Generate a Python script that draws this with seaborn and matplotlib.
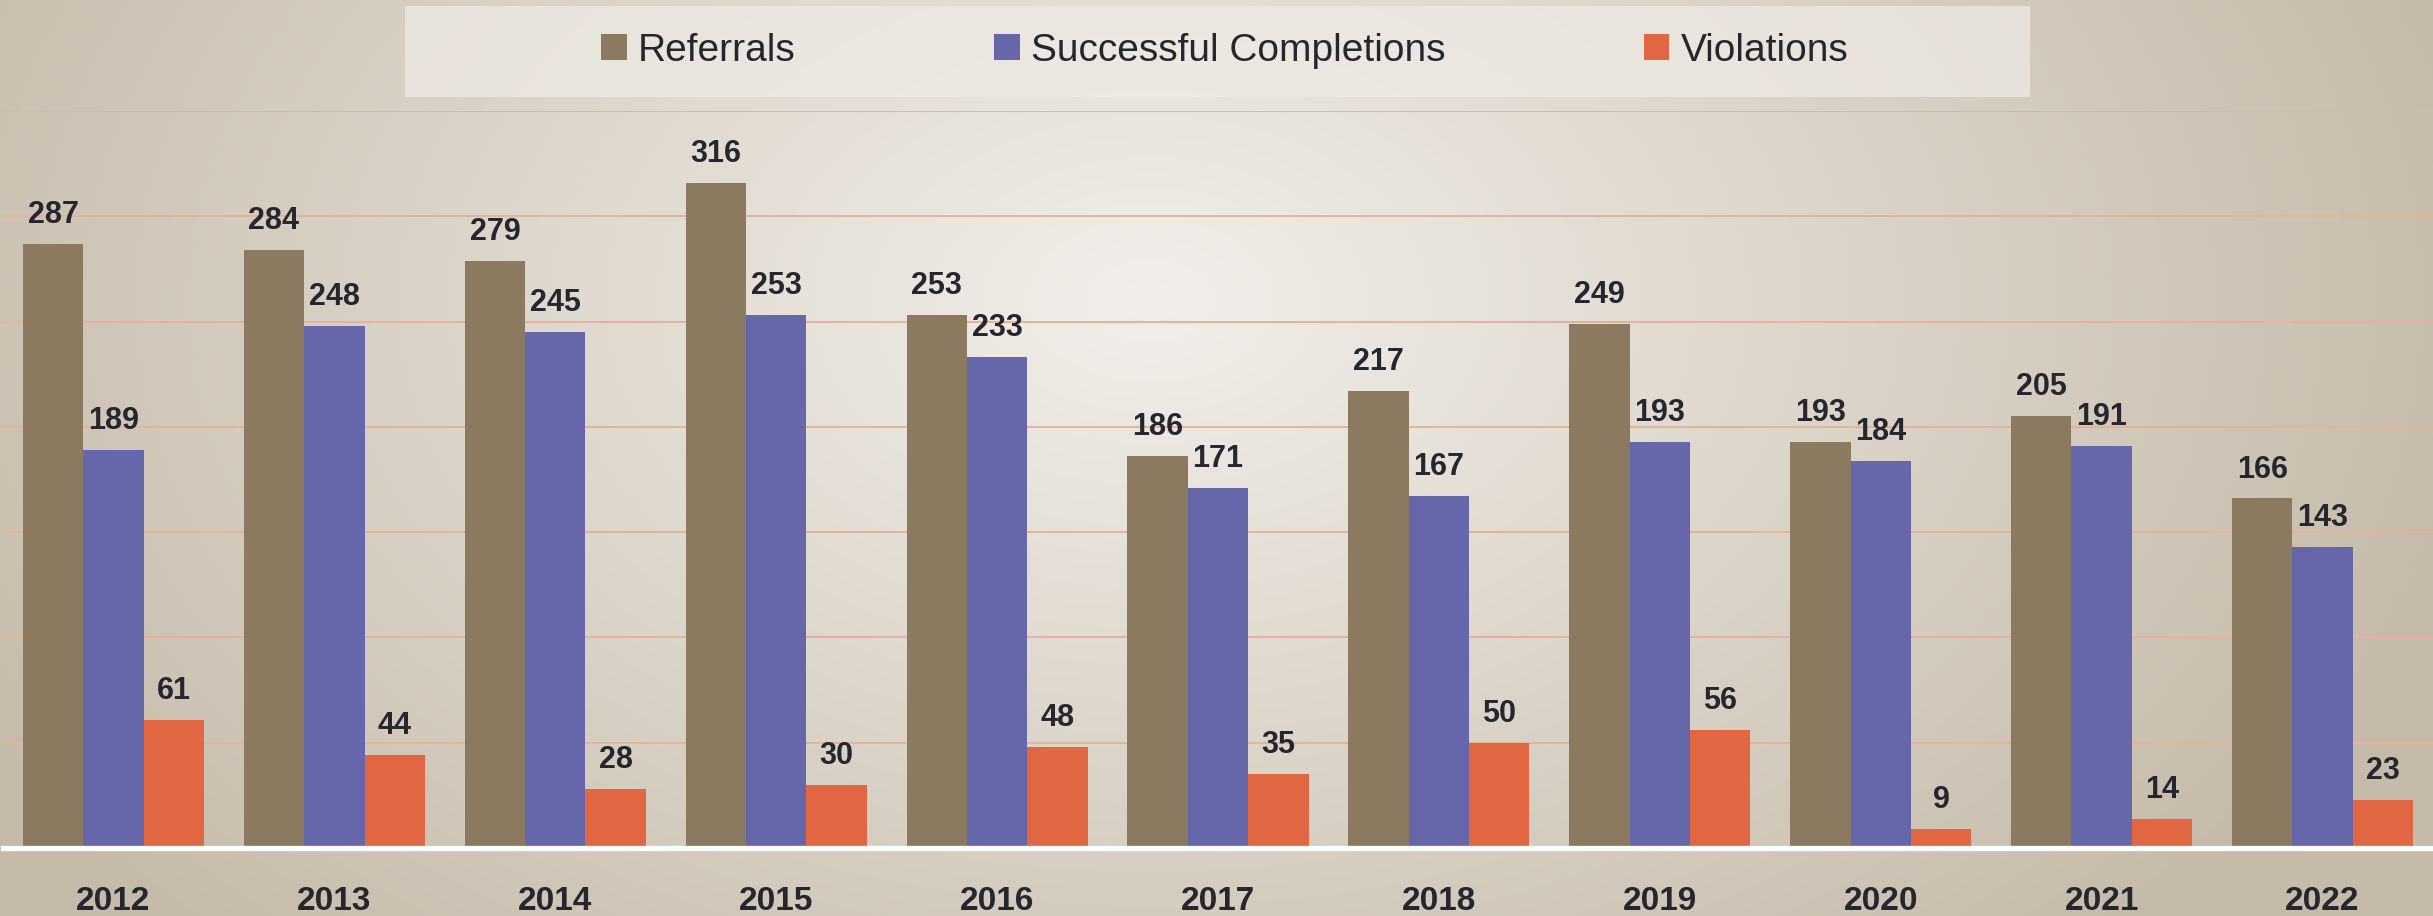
import numpy as np
import pandas as pd
import matplotlib
matplotlib.use("Agg")
import matplotlib.pyplot as plt
from matplotlib.patches import Rectangle, Patch
import seaborn as sns

years = ["2012", "2013", "2014", "2015", "2016", "2017", "2018", "2019", "2020", "2021", "2022"]
referrals = [287, 284, 279, 316, 253, 186, 217, 249, 193, 205, 166]
completions = [189, 248, 245, 253, 233, 171, 167, 193, 184, 191, 143]
violations = [61, 44, 28, 30, 48, 35, 50, 56, 9, 14, 23]
series_names = ["Referrals", "Successful Completions", "Violations"]
colors = ["#8c7a60", "#6667ab", "#e16642"]

sns.set_theme(style="white")
plt.rcParams["font.family"] = ["Liberation Sans", "DejaVu Sans"]

df = pd.DataFrame({
    "Year": years * 3,
    "Series": [series_names[0]] * 11 + [series_names[1]] * 11 + [series_names[2]] * 11,
    "Value": referrals + completions + violations,
})

W, H, DPI = 2433, 916, 100
fig = plt.figure(figsize=(W / DPI, H / DPI), dpi=DPI)

# background radial gradient
bg = fig.add_axes([0, 0, 1, 1], zorder=-10)
yy, xx = np.mgrid[0:H, 0:W]
d = np.sqrt(((xx - 1150) / 1350.0) ** 2 + ((yy - 300) / 900.0) ** 2)
d = np.clip(d, 0, 1)
c0 = np.array([242, 239, 234]) / 255.0
c1 = np.array([198, 187, 170]) / 255.0
img = c0[None, None, :] * (1 - d[..., None]) + c1[None, None, :] * d[..., None]
bg.imshow(img, aspect="auto", extent=[0, W, H, 0])
bg.axis("off")

# legend box
bg.add_patch(Rectangle((405, 6), 1625, 91, facecolor="#efebe5", edgecolor="none", alpha=0.7))

ax = fig.add_axes([3 / W, (H - 848) / H, 2430 / W, (848 - 111) / H])
ax.patch.set_alpha(0)

sns.barplot(data=df, x="Year", y="Value", hue="Series", palette=colors,
            width=0.82, gap=0, ax=ax, legend=False, saturation=1, zorder=3,
            linewidth=0, edgecolor="none")

ax.set_ylim(0, 350)
ax.set_yticks(np.arange(50, 351, 50))
ax.yaxis.grid(True, color="#e6b29c", linewidth=1.4, zorder=0)
ax.set_axisbelow(True)
ax.tick_params(axis="y", left=False, labelleft=False)
ax.tick_params(axis="x", bottom=False, pad=21)
for t in ax.get_xticklabels():
    t.set_fontsize(24)
    t.set_fontweight("bold")
    t.set_color("#26262e")
ax.set_xlabel("")
ax.set_ylabel("")
for s in ["top", "right", "left"]:
    ax.spines[s].set_visible(False)
ax.spines["bottom"].set_color("white")
ax.spines["bottom"].set_linewidth(3.8)
ax.spines["bottom"].set_zorder(5)

for cont in ax.containers:
    ax.bar_label(cont, fmt="%d", padding=10, fontsize=22, fontweight="bold",
                 color="#26262e")

handles = [Patch(facecolor=c, edgecolor="none") for c in colors]
fig.legend(handles, series_names, loc="center", bbox_to_anchor=(1225 / W, 1 - 51 / H),
           ncol=3, frameon=False, handlelength=0.65, handleheight=0.65,
           handletextpad=0.3, columnspacing=5.1, labelcolor="#26262e",
           prop={"family": ["Liberation Sans"], "size": 28})

fig.savefig("out.png", dpi=DPI)
